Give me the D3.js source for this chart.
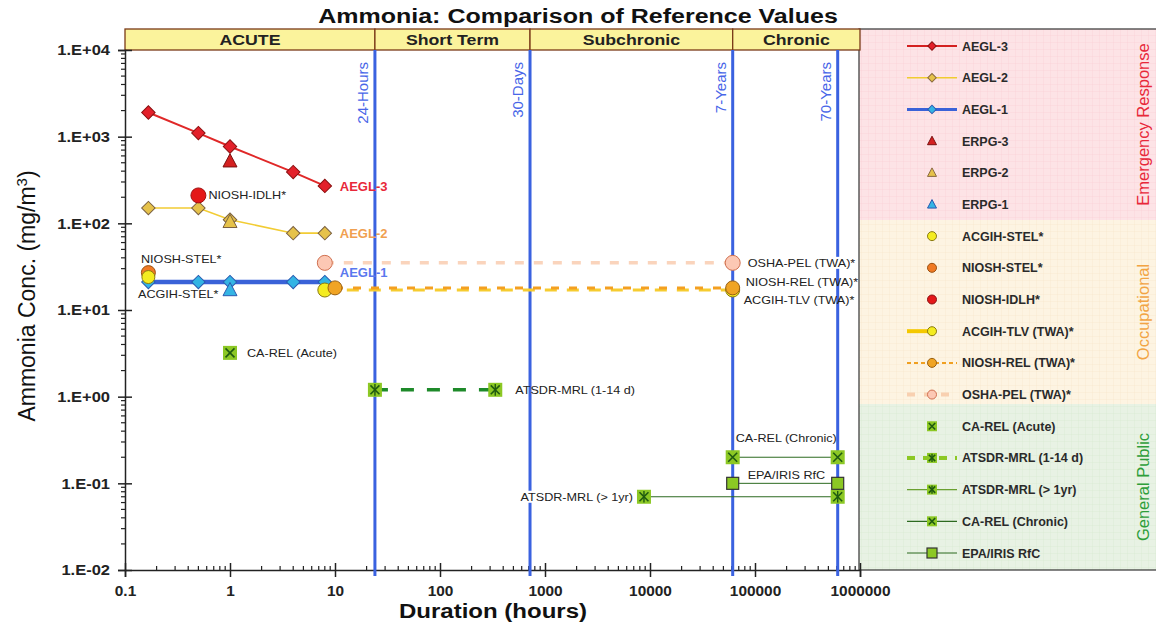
<!DOCTYPE html>
<html lang="en">
<head>
<meta charset="UTF-8">
<title>Ammonia: Comparison of Reference Values</title>
<script src="https://d3js.org/d3.v7.min.js"></script>
<style>
  body { margin: 0; background: #fff; }
  svg text { font-family: "Liberation Sans", Arial, sans-serif; }
</style>
</head>
<body>
<svg id="chart" width="1156" height="627"></svg>
<script>
// ---- data (durations in hours, concentrations in mg/m3) ----
var aeglDurations = [0.167, 0.5, 1, 4, 8];
var aegl3 = [1900, 1100, 770, 390, 270];
var aegl2 = [150, 150, 110, 77, 77];
var aegl1 = [21, 21, 21, 21, 21];

var erpgDuration = [1];
var erpg3 = [520];
var erpg2 = [104];
var erpg1 = [17];

var stelDuration = [0.167];
var acgihStel = [24];
var nioshStel = [27];
var idlhDuration = [0.5];
var nioshIdlh = [210];

var acgihTlvDurations = [8, 61320];
var acgihTlv = [17, 17];
var nioshRelDurations = [10, 61320];
var nioshRel = [18, 18];
var oshaPelDurations = [8, 61320];
var oshaPel = [35, 35];

var caRelAcuteDuration = [1];
var caRelAcute = [3.2];
var atsdrAcuteDurations = [24, 336];
var atsdrAcute = [1.2, 1.2];
var atsdrChronicDurations = [8760, 613200];
var atsdrChronic = [0.07, 0.07];
var caRelChronicDurations = [61320, 613200];
var caRelChronic = [0.2, 0.2];
var epaRfcDurations = [61320, 613200];
var epaRfc = [0.1, 0.1];

var periodNames = ["ACUTE", "Short Term", "Subchronic", "Chronic"];
var periodBounds = [0.1, 24, 720, 61320, 1e6];
var markerHours = [24, 720, 61320, 613200];
var markerLabels = ["24-Hours", "30-Days", "7-Years", "70-Years"];

var xTicks = [0.1, 1, 10, 100, 1000, 10000, 100000, 1000000];
var xTickLabels = ["0.1", "1", "10", "100", "1000", "10000", "100000", "1000000"];
var yTicks = [0.01, 0.1, 1, 10, 100, 1000, 10000];
var yTickLabels = ["1.E-02", "1.E-01", "1.E+00", "1.E+01", "1.E+02", "1.E+03", "1.E+04"];

// ---- setup ----
var svg = d3.select("#chart");
var plotLeft = 125, plotRight = 860, plotTop = 50, plotBottom = 570;

var x = d3.scaleLog().domain([0.1, 1e6]).range([plotLeft, plotRight]);
var y = d3.scaleLog().domain([0.01, 1e4]).range([plotBottom, plotTop]);

function zip(xs, ys) { return xs.map(function(d, i) { return [d, ys[i]]; }); }

// the original picture has wide lettering, so widen texts a bit
function stretch(sel, k) {
    sel.each(function() {
        var w = this.getComputedTextLength();
        d3.select(this).attr("textLength", w * k).attr("lengthAdjust", "spacingAndGlyphs");
    });
    return sel;
}

// marker drawing
function marker(g, type, cx, cy, s, fill, stroke) {
    var m = g.append("g").attr("transform", "translate(" + cx + "," + cy + ")");
    if (type === "diamond") {
        m.append("rect").attr("x", -s / 2).attr("y", -s / 2).attr("width", s).attr("height", s)
            .attr("transform", "rotate(45)").attr("fill", fill).attr("stroke", stroke).attr("stroke-width", 1);
    } else if (type === "triangle") {
        var h = s * 0.9;
        m.append("path").attr("d", "M0," + (-h * 0.6) + "L" + (s / 2) + "," + (h * 0.45) + "L" + (-s / 2) + "," + (h * 0.45) + "Z")
            .attr("fill", fill).attr("stroke", stroke).attr("stroke-width", 1);
    } else if (type === "circle") {
        m.append("circle").attr("r", s / 2).attr("fill", fill).attr("stroke", stroke).attr("stroke-width", 1);
    } else {
        m.append("rect").attr("x", -s / 2).attr("y", -s / 2).attr("width", s).attr("height", s)
            .attr("fill", fill).attr("stroke", type === "square" ? "#333" : "none").attr("stroke-width", 1.2);
        var k = s * 0.32;
        if (type === "squareX" || type === "squareStar") {
            m.append("path").attr("d", "M" + (-k) + "," + (-k) + "L" + k + "," + k + "M" + k + "," + (-k) + "L" + (-k) + "," + k)
                .attr("stroke", "#1f5a10").attr("stroke-width", 1.6);
        }
        if (type === "squareStar") {
            m.append("path").attr("d", "M0," + (-k * 1.3) + "L0," + (k * 1.3))
                .attr("stroke", "#1f5a10").attr("stroke-width", 1.4);
        }
    }
}

var lineGen = d3.line().x(function(d) { return x(d[0]); }).y(function(d) { return y(d[1]); });

// ---- title ----
stretch(svg.append("text").attr("x", 578).attr("y", 23).attr("text-anchor", "middle")
    .attr("font-size", 20).attr("font-weight", "bold").attr("fill", "#111")
    .text("Ammonia: Comparison of Reference Values"), 1.25);

// ---- legend panel ----
var sections = [
    { name: "Emergency Response", y0: 29, y1: 220, bg: "#fde3e6", grid: "#f7cdd3", color: "#e8283a" },
    { name: "Occupational", y0: 220, y1: 404, bg: "#fdf4e2", grid: "#f3e4c6", color: "#f2a444" },
    { name: "General Public", y0: 404, y1: 570, bg: "#e8f2e4", grid: "#d3e5cd", color: "#2e9e3a" }
];
var defs = svg.append("defs");
sections.forEach(function(s, i) {
    var p = defs.append("pattern").attr("id", "grid" + i).attr("width", 7).attr("height", 7)
        .attr("patternUnits", "userSpaceOnUse");
    p.append("rect").attr("width", 7).attr("height", 7).attr("fill", s.bg);
    p.append("path").attr("d", "M7,0L0,0L0,7").attr("fill", "none").attr("stroke", s.grid).attr("stroke-width", 0.6);
});
var legendG = svg.append("g");
sections.forEach(function(s, i) {
    legendG.append("rect").attr("x", 859).attr("y", s.y0).attr("width", 300).attr("height", s.y1 - s.y0)
        .attr("fill", "url(#grid" + i + ")");
    var cy = (s.y0 + s.y1) / 2;
    legendG.append("text").attr("transform", "translate(1149," + cy + ") rotate(-90)")
        .attr("text-anchor", "middle").attr("font-size", 16.5).attr("fill", s.color).text(s.name);
});
legendG.append("rect").attr("x", 859).attr("y", 29).attr("width", 320).attr("height", 541)
    .attr("fill", "none").attr("stroke", "#333").attr("stroke-width", 1.2);

var legendItems = [
    { label: "AEGL-3", marker: "diamond", fill: "#e3202a", stroke: "#8a1010", line: { color: "#d42020", w: 2 } },
    { label: "AEGL-2", marker: "diamond", fill: "#e6c24a", stroke: "#8a6a40", line: { color: "#f0cc30", w: 1.5 } },
    { label: "AEGL-1", marker: "diamond", fill: "#34b4e4", stroke: "#2a5ab0", line: { color: "#3a62d8", w: 3 } },
    { label: "ERPG-3", marker: "triangle", fill: "#d42020", stroke: "#7a1010" },
    { label: "ERPG-2", marker: "triangle", fill: "#e6c24a", stroke: "#8a6a40" },
    { label: "ERPG-1", marker: "triangle", fill: "#34b4e4", stroke: "#2a5ab0" },
    { label: "ACGIH-STEL*", marker: "circle", fill: "#f4ec20", stroke: "#8a7a10" },
    { label: "NIOSH-STEL*", marker: "circle", fill: "#f07a24", stroke: "#9a5010" },
    { label: "NIOSH-IDLH*", marker: "circle", fill: "#e41818", stroke: "#8a1010" },
    { label: "ACGIH-TLV (TWA)*", marker: "circle", fill: "#f4ec20", stroke: "#8a7a10", line: { color: "#f4c800", w: 4, half: true } },
    { label: "NIOSH-REL (TWA)*", marker: "circle", fill: "#f0a424", stroke: "#9a6010", line: { color: "#f0a020", w: 2, dash: "4,3" } },
    { label: "OSHA-PEL (TWA)*", marker: "circle", fill: "#fcc8b4", stroke: "#d07050", line: { color: "#f8d0b0", w: 4, dash: "8,9" } },
    { label: "CA-REL (Acute)", marker: "squareX", fill: "#8cc824" },
    { label: "ATSDR-MRL (1-14 d)", marker: "squareStar", fill: "#8cc824", line: { color: "#8cc824", w: 4, dash: "8,8" } },
    { label: "ATSDR-MRL (> 1yr)", marker: "squareStar", fill: "#8cc824", line: { color: "#6aa030", w: 1.2 } },
    { label: "CA-REL (Chronic)", marker: "squareX", fill: "#8cc824", line: { color: "#2c6a20", w: 1.2 } },
    { label: "EPA/IRIS RfC", marker: "square", fill: "#8cc824", line: { color: "#2c6a20", w: 1.2 } }
];
var legendY = d3.scalePoint().domain(legendItems.map(function(d) { return d.label; })).range([46, 553]);
legendItems.forEach(function(d) {
    var cy = legendY(d.label);
    if (d.line) {
        legendG.append("line").attr("x1", 907).attr("x2", d.line.half ? 930 : 957)
            .attr("y1", cy).attr("y2", cy).attr("stroke", d.line.color).attr("stroke-width", d.line.w)
            .attr("stroke-dasharray", d.line.dash || null);
    }
    var sz = d.marker === "diamond" ? 6 : (d.marker.indexOf("square") === 0 ? 10 : 9);
    marker(legendG, d.marker, 932, cy, sz, d.fill, d.stroke || "#333");
    legendG.append("text").attr("x", 962).attr("y", cy + 4.5).attr("font-size", 12.5)
        .attr("font-weight", "bold").attr("fill", "#2a2a2a").text(d.label);
});

// ---- period header ----
var header = svg.append("g");
periodNames.forEach(function(name, i) {
    var x0 = x(periodBounds[i]), x1 = x(periodBounds[i + 1]);
    header.append("rect").attr("x", x0).attr("y", 29).attr("width", x1 - x0).attr("height", 21)
        .attr("fill", "#fbf39c").attr("stroke", "#7a3a18").attr("stroke-width", 1.3);
    stretch(header.append("text").attr("x", (x0 + x1) / 2).attr("y", 45).attr("text-anchor", "middle")
        .attr("font-size", 15).attr("font-weight", "bold").attr("fill", "#222").text(name), 1.18);
});

// ---- axes ----
var yAxis = svg.append("g").attr("transform", "translate(" + plotLeft + ",0)")
    .call(d3.axisLeft(y).tickValues(yTicks).tickSize(7).tickPadding(8)
        .tickFormat(function(d, i) { return yTickLabels[i]; }));
yAxis.select(".domain").attr("stroke", "#222").attr("stroke-width", 1.5);
yAxis.selectAll(".tick line").attr("x1", 7).attr("stroke", "#222").attr("stroke-width", 1.5);
stretch(yAxis.selectAll(".tick text").attr("font-size", 15).attr("font-weight", "bold").attr("fill", "#222")
    .attr("font-family", "Liberation Sans, Arial, sans-serif"), 1.1);

var yMinor = [];
yTicks.slice(0, -1).forEach(function(t) { for (var k = 2; k <= 9; k++) yMinor.push(t * k); });
svg.append("g").selectAll("line").data(yMinor).enter().append("line")
    .attr("x1", plotLeft - 4).attr("x2", plotLeft).attr("y1", function(d) { return y(d); }).attr("y2", function(d) { return y(d); })
    .attr("stroke", "#222").attr("stroke-width", 1.2);

var xAxis = svg.append("g").attr("transform", "translate(0," + plotBottom + ")")
    .call(d3.axisBottom(x).tickValues(xTicks).tickSize(7).tickPadding(9)
        .tickFormat(function(d, i) { return xTickLabels[i]; }));
xAxis.select(".domain").attr("stroke", "#222").attr("stroke-width", 1.5);
xAxis.selectAll(".tick line").attr("y1", -7).attr("stroke", "#222").attr("stroke-width", 1.5);
stretch(xAxis.selectAll(".tick text").attr("font-size", 14).attr("font-weight", "bold").attr("fill", "#222")
    .attr("font-family", "Liberation Sans, Arial, sans-serif"), 1.1);

var xMinor = [];
xTicks.slice(0, -1).forEach(function(t) { for (var k = 2; k <= 9; k++) xMinor.push(t * k); });
svg.append("g").selectAll("line").data(xMinor).enter().append("line")
    .attr("x1", function(d) { return x(d); }).attr("x2", function(d) { return x(d); })
    .attr("y1", plotBottom - 4).attr("y2", plotBottom).attr("stroke", "#222").attr("stroke-width", 1.2);

var yLabel = svg.append("text").attr("transform", "translate(35,296) rotate(-90)").attr("text-anchor", "middle")
    .attr("font-size", 23).attr("fill", "#111");
yLabel.append("tspan").text("Ammonia Conc. (mg/m");
yLabel.append("tspan").attr("baseline-shift", "super").attr("font-size", 15).text("3");
yLabel.append("tspan").text(")");

stretch(svg.append("text").attr("x", 493).attr("y", 618).attr("text-anchor", "middle")
    .attr("font-size", 20).attr("font-weight", "bold").attr("fill", "#111").text("Duration (hours)"), 1.2);

// ---- duration marker lines ----
var plot = svg.append("g");
markerHours.forEach(function(h, i) {
    plot.append("line").attr("x1", x(h)).attr("x2", x(h)).attr("y1", plotTop).attr("y2", plotBottom + 6)
        .attr("stroke", "#3a62e0").attr("stroke-width", 3);
    plot.append("text").attr("transform", "translate(" + (x(h) - 7) + ",62) rotate(-90)")
        .attr("text-anchor", "end").attr("font-size", 15).attr("fill", "#4866e8").text(markerLabels[i]);
});

// ---- series lines ----
function drawLine(xs, ys, color, w, dash) {
    plot.append("path").datum(zip(xs, ys)).attr("d", lineGen).attr("fill", "none")
        .attr("stroke", color).attr("stroke-width", w).attr("stroke-dasharray", dash || null);
}
drawLine(aeglDurations, aegl3, "#e02828", 2);
drawLine(aeglDurations, aegl2, "#f2cc34", 1.6);
drawLine(aeglDurations, aegl1, "#3a62d8", 4.5);
drawLine(oshaPelDurations, oshaPel, "#fad4bc", 3.5, "9,10");
drawLine(acgihTlvDurations, acgihTlv, "#f6cc30", 3, "12,10");
drawLine(nioshRelDurations, nioshRel, "#f4a020", 3, "8,10");
drawLine(atsdrAcuteDurations, atsdrAcute, "#1e8a2a", 3.5, "13,13");
drawLine(atsdrChronicDurations, atsdrChronic, "#2c6a20", 1);
drawLine(caRelChronicDurations, caRelChronic, "#2c6a20", 1);
drawLine(epaRfcDurations, epaRfc, "#2c6a20", 1);

// ---- series markers ----
function drawMarkers(xs, ys, type, s, fill, stroke) {
    zip(xs, ys).forEach(function(p) { marker(plot, type, x(p[0]), y(p[1]), s, fill, stroke); });
}
drawMarkers(aeglDurations, aegl3, "diamond", 9.5, "#e3202a", "#8a1010");
drawMarkers(aeglDurations, aegl2, "diamond", 9.5, "#e6c24a", "#7a6040");
drawMarkers(aeglDurations, aegl1, "diamond", 9.5, "#34b4e4", "#2a5ab0");
drawMarkers(erpgDuration, erpg3, "triangle", 14, "#d42020", "#7a1010");
drawMarkers(erpgDuration, erpg2, "triangle", 14, "#e6c24a", "#7a6040");
drawMarkers(erpgDuration, erpg1, "triangle", 14, "#34b4e4", "#2a5ab0");
drawMarkers(stelDuration, nioshStel, "circle", 14, "#f07a24", "#9a5010");
drawMarkers(stelDuration, acgihStel, "circle", 13, "#f4ec20", "#8a7a10");
drawMarkers(idlhDuration, nioshIdlh, "circle", 15, "#e41818", "#a01010");
drawMarkers(oshaPelDurations, oshaPel, "circle", 15, "#fcc8b4", "#d07050");
drawMarkers(acgihTlvDurations, acgihTlv, "circle", 14, "#f4ec20", "#8a7a10");
drawMarkers(nioshRelDurations, nioshRel, "circle", 14, "#f0a424", "#9a6010");
drawMarkers(caRelAcuteDuration, caRelAcute, "squareX", 14, "#8cc824");
drawMarkers(atsdrAcuteDurations, atsdrAcute, "squareStar", 14, "#8cc824");
drawMarkers(atsdrChronicDurations, atsdrChronic, "squareStar", 14, "#8cc824");
drawMarkers(caRelChronicDurations, caRelChronic, "squareX", 14, "#8cc824");
drawMarkers(epaRfcDurations, epaRfc, "square", 12, "#8cc824");

// ---- in-plot labels ----
function label(tx, ty, txt, opts) {
    opts = opts || {};
    var t = plot.append("text").attr("x", tx).attr("y", ty).attr("font-size", opts.size || 10.5)
        .attr("font-weight", opts.bold ? "bold" : null).attr("fill", opts.color || "#222")
        .attr("text-anchor", opts.anchor || "start").text(txt);
    if (!opts.bold) stretch(t, 1.2);
    if (opts.bg) {
        var b = t.node().getBBox();
        plot.insert("rect", function() { return t.node(); })
            .attr("x", b.x - 2).attr("y", b.y).attr("width", b.width + 4).attr("height", b.height).attr("fill", "#fff");
    }
}
label(x(8) + 15, y(270) + 5, "AEGL-3", { size: 13, bold: true, color: "#e8283a" });
label(x(8) + 15, y(77) + 5, "AEGL-2", { size: 13, bold: true, color: "#f0a050" });
label(x(8) + 15, y(21) - 5, "AEGL-1", { size: 13, bold: true, color: "#5a78ee" });
label(x(0.5) + 10, y(210) + 4, "NIOSH-IDLH*");
label(141, y(27) - 10, "NIOSH-STEL*");
label(138, y(24) + 21, "ACGIH-STEL*");
label(x(1) + 17, y(3.2) + 4, "CA-REL (Acute)");
label(x(336) + 20, y(1.2) + 4, "ATSDR-MRL (1-14 d)");
label(x(61320) + 15, y(35) + 4, "OSHA-PEL (TWA)*", { bg: true });
label(x(61320) + 13, y(18) - 2, "NIOSH-REL (TWA)*");
label(x(61320) + 11, y(17) + 14, "ACGIH-TLV (TWA)*");
label(x(61320) + 3, y(0.2) - 15, "CA-REL (Chronic)");
label(x(61320) + 15, y(0.1) - 4, "EPA/IRIS RfC", { bg: true });
label(x(8760) - 11, y(0.07) + 4, "ATSDR-MRL (> 1yr)", { anchor: "end", bg: true });
</script>
</body>
</html>
